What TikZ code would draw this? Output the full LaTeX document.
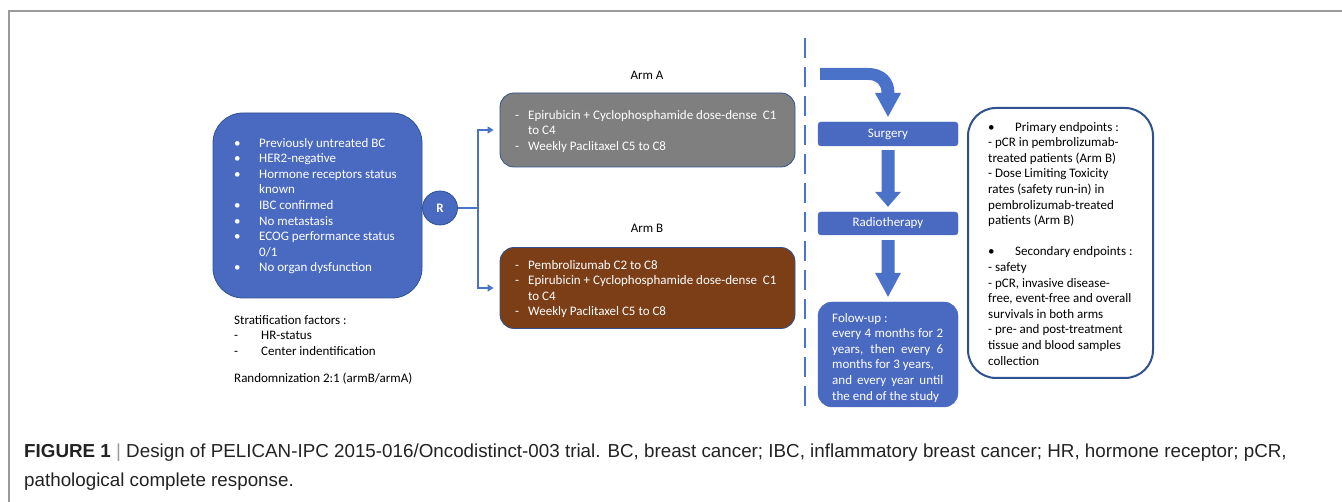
\documentclass[tikz,border=0pt]{standalone}
\usepackage{fontspec}
\setmainfont{Carlito}
\newfontfamily\capfont{Liberation Sans}
\usetikzlibrary{shapes.geometric,arrows.meta,calc}
\definecolor{bfill}{HTML}{4A6AC2}
\definecolor{bdraw}{HTML}{2F528F}
\definecolor{gfill}{HTML}{7F7F7F}
\definecolor{brfill}{HTML}{7B3E16}
\definecolor{lblue}{HTML}{4A72C8}
\definecolor{frame}{HTML}{9A9A9A}
\definecolor{captext}{HTML}{222222}
\tikzset{
  txt/.style={font=\fontsize{13}{15.6}\selectfont, inner sep=0pt, anchor=north west, align=left},
  bigbox/.style={draw=bdraw, line width=0.8pt, inner sep=0pt},
  stepbox/.style={fill=bfill, draw=bfill, rounded corners=3pt, minimum width=140pt, inner sep=0pt, text=white, font=\fontsize{13}{15.6}\selectfont},
  conn/.style={draw=lblue, line width=1.5pt},
  tipconn/.style={conn, -{Triangle[length=6pt,width=7pt]}, shorten >=6pt},
  blockarrow/.style={fill=lblue, draw=none},
  captxt/.style={anchor=base west, inner sep=0pt, text=captext, font=\capfont\fontsize{18.8}{22}\selectfont},
}
\begin{document}
\begin{tikzpicture}[x=1pt,y=-1pt]
\useasboundingbox (0,0) rectangle (1342,502);
% frame
\draw[frame, line width=1.2pt] (9,502) -- (9,11) -- (1342,11);

% left criteria box
\node[bigbox, fill=bfill, rounded corners=30pt, minimum width=209pt, minimum height=185pt] (crit) at (317.5,205.5) {};
\node[txt, text=white] (crittxt) at (234,136) {\begin{tabular}{@{}p{25pt}@{}l@{}}
•&Previously untreated BC\\
•&HER2-negative\\
•&Hormone receptors status\\
&known\\
•&IBC confirmed\\
•&No metastasis\\
•&ECOG performance status\\
&0/1\\
•&No organ dysfunction
\end{tabular}};

% stratification
\node[txt] (strat) at (234,313) {\begin{tabular}{@{}p{27pt}@{}l@{}}
\multicolumn{2}{@{}l@{}}{Stratification factors :}\\
-&HR-status\\
-&Center indentification
\end{tabular}};
\node[txt] (rand) at (234,371) {\begin{tabular}{@{}l@{}}Randomnization 2:1 (armB/armA)\end{tabular}};

% R
\node[ellipse, fill=bfill, draw=bdraw, line width=0.8pt, minimum width=35pt, minimum height=34pt, inner sep=0pt, text=white, font=\fontsize{13}{15.6}\selectfont\bfseries] (R) at (440,208) {R};

% Arm A
\node[font=\fontsize{13}{15.6}\selectfont, inner sep=0pt] (armAlbl) at (647,75) {Arm A};
\node[bigbox, fill=gfill, rounded corners=14pt, minimum width=295pt, minimum height=74pt] (armA) at (647.5,130) {};
\node[txt, text=white] (armAtxt) at (515,108) {\begin{tabular}{@{}p{13pt}@{}l@{}}
-&Epirubicin + Cyclophosphamide dose-dense\ \ C1\\
&to C4\\
-&Weekly Paclitaxel C5 to C8
\end{tabular}};

% Arm B
\node[font=\fontsize{13}{15.6}\selectfont, inner sep=0pt] (armBlbl) at (647,228) {Arm B};
\node[bigbox, fill=brfill, rounded corners=14pt, minimum width=295pt, minimum height=81pt] (armB) at (647.5,288) {};
\node[txt, text=white] (armBtxt) at (515,258) {\begin{tabular}{@{}p{13pt}@{}l@{}}
-&Pembrolizumab C2 to C8\\
-&Epirubicin + Cyclophosphamide dose-dense\ \ C1\\
&to C4\\
-&Weekly Paclitaxel C5 to C8
\end{tabular}};

% connectors from R
\coordinate (split) at (478,208);
\draw[conn] (R.east) -- (split);
\draw[tipconn] (split) |- (armA.west);
\draw[tipconn] (split) |- (armB.west);

% dashed separator
\coordinate (dtop) at (805,38);
\coordinate (dbot) at (805,410);
\draw[lblue, line width=2pt, dash pattern=on 20pt off 9pt] (dtop) -- (dbot);

% right column
\node[stepbox, minimum height=24pt] (surg) at (888,134) {Surgery};
\node[stepbox, minimum height=23pt] (radio) at (888,223.5) {Radiotherapy};
\node[stepbox, rounded corners=14pt, minimum height=105pt] (follow) at (888,354.5) {};
\node[txt, text=white] (followtxt) at (832,311) {\begin{tabular}{@{}l@{}}
Folow-up :\\
\makebox[111pt][s]{every 4 months for 2}\\
\makebox[111pt][s]{years, then every 6}\\
months for 3 years,\\
\makebox[111pt][s]{and every year until}\\
the end of the study
\end{tabular}};

% curved arrow into surgery
\fill[blockarrow] (820,68) -- (868,68) .. controls (884,68) and (894.5,78) .. (894.5,93)
  -- (901,93) -- ($(surg.north)+(0,-5)$) -- (875,93) -- (881.5,93)
  .. controls (881.5,85) and (877,80) .. (868,80) -- (820,80) -- cycle;
% surgery -> radiotherapy
\fill[blockarrow] ($(surg.south)+(-6.5,4)$) -- ($(radio.north)+(-6.5,-20)$) -- ($(radio.north)+(-13,-20)$)
  -- ($(radio.north)+(0,-5)$) -- ($(radio.north)+(13,-20)$) -- ($(radio.north)+(6.5,-20)$)
  -- ($(surg.south)+(6.5,4)$) -- cycle;
% radiotherapy -> follow-up
\fill[blockarrow] ($(radio.south)+(-6.5,5)$) -- ($(follow.north)+(-6.5,-29)$) -- ($(follow.north)+(-13,-29)$)
  -- ($(follow.north)+(0,-5)$) -- ($(follow.north)+(13,-29)$) -- ($(follow.north)+(6.5,-29)$)
  -- ($(radio.south)+(6.5,5)$) -- cycle;

% endpoints box
\node[draw=bdraw, line width=2pt, fill=white, rounded corners=28pt, minimum width=185pt, minimum height=270pt, inner sep=0pt] (endp) at (1060.5,243) {};
\node[txt] (endptxt) at (988,120) {\begin{tabular}{@{}l@{}}
\makebox[27pt][l]{•}Primary endpoints :\\
- pCR in pembrolizumab-\\
treated patients (Arm B)\\
- Dose Limiting Toxicity\\
rates (safety run-in) in\\
pembrolizumab-treated\\
patients (Arm B)\\
\\
\makebox[27pt][l]{•}Secondary endpoints :\\
- safety\\
- pCR, invasive disease-\\
free, event-free and overall\\
survivals in both arms\\
- pre- and post-treatment\\
tissue and blood samples\\
collection
\end{tabular}};

% caption
\node[captxt] (cap1) at (24,458)
  {\textbf{FIGURE 1} {\color{frame}|} Design of PELICAN-IPC 2015-016/Oncodistinct-003 trial. BC, breast cancer; IBC, inflammatory breast cancer; HR, hormone receptor; pCR,};
\node[captxt] (cap2) at (24,486)
  {pathological complete response.};
\end{tikzpicture}
\end{document}
